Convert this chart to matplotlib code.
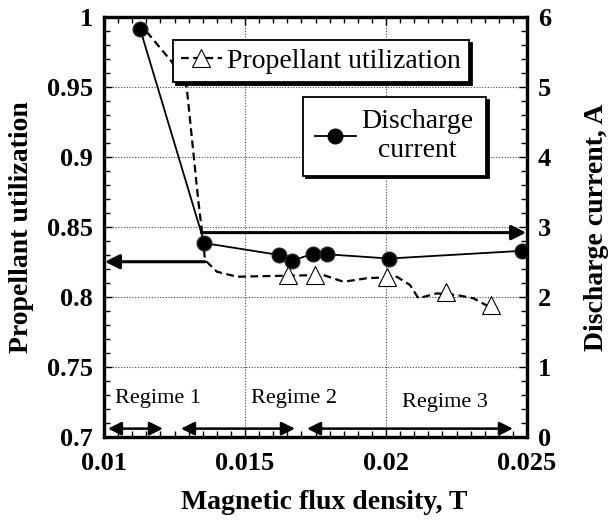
import matplotlib.pyplot as plt
from matplotlib.lines import Line2D
from matplotlib.ticker import MultipleLocator

plt.rcParams['font.family'] = ['Liberation Serif', 'DejaVu Serif']

# measured propellant utilization
util_b = [0.01654, 0.01748, 0.02002, 0.02213, 0.02372]
util = [0.8157, 0.8157, 0.8145, 0.8038, 0.7943]

# smoothed utilization trend (dashed)
trend_b = [0.01151, 0.01240, 0.01293, 0.01334, 0.01351, 0.01358, 0.01400, 0.01471,
           0.01636, 0.01778, 0.01849, 0.01932, 0.02038, 0.02085, 0.02115, 0.02180,
           0.02251, 0.02310, 0.02398]
trend = [0.9895, 0.9681, 0.9502, 0.8693, 0.8407, 0.8264, 0.8181, 0.8145,
         0.8152, 0.8157, 0.8109, 0.8134, 0.8145, 0.8086, 0.7991, 0.8026,
         0.8014, 0.7991, 0.7895]

# discharge current, A
current_b = [0.01128, 0.01356, 0.01622, 0.01668, 0.01742, 0.01792, 0.02011, 0.02483]
current = [5.83, 2.77, 2.60, 2.52, 2.62, 2.61, 2.55, 2.66]

regimes = ['Regime 1', 'Regime 2', 'Regime 3']
regime_start = [0.01014, 0.01273, 0.01720]
regime_end = [0.01209, 0.01677, 0.02450]
regime_text_x = [0.01190, 0.01672, 0.02208]
regime_text_y = [0.7275, 0.7275, 0.7250]

fig = plt.figure(figsize=(6.13, 5.22), dpi=100)
ax = fig.add_axes([0.1697, 0.1628, 0.6900, 0.8046])
ax2 = ax.twinx()

ax.set_xlim(0.01, 0.025)
ax.set_ylim(0.7, 1.0)
ax2.set_ylim(0, 6)

ax.xaxis.set_major_locator(MultipleLocator(0.005))
ax.xaxis.set_minor_locator(MultipleLocator(0.0005))
ax.yaxis.set_major_locator(MultipleLocator(0.05))
ax.yaxis.set_minor_locator(MultipleLocator(0.01))
ax2.yaxis.set_major_locator(MultipleLocator(1))
ax2.yaxis.set_minor_locator(MultipleLocator(0.2))
ax.set_xticks([0.01, 0.015, 0.02, 0.025])
ax.set_xticklabels(['0.01', '0.015', '0.02', '0.025'])
ax.set_yticks([0.7, 0.75, 0.8, 0.85, 0.9, 0.95, 1.0])
ax.set_yticklabels(['0.7', '0.75', '0.8', '0.85', '0.9', '0.95', '1'])

ax.grid(True, which='major', linestyle=(0, (1, 1.5)), color='#444444', linewidth=0.8)

for a in (ax, ax2):
    for s in a.spines.values():
        s.set_linewidth(2.3)
ax.tick_params(axis='both', which='both', direction='in', top=True, right=False,
               labelsize=19, width=1.0)
ax.tick_params(axis='both', which='major', length=6)
ax.tick_params(axis='both', which='minor', length=4)
ax.tick_params(axis='x', pad=11)
ax.tick_params(axis='y', pad=8)
ax2.tick_params(axis='y', which='both', direction='in', labelsize=19, width=1.0, pad=8)
ax2.tick_params(axis='y', which='major', length=6)
ax2.tick_params(axis='y', which='minor', length=4)
for lab in ax.get_xticklabels() + ax.get_yticklabels() + ax2.get_yticklabels():
    lab.set_fontweight('bold')

ax.set_xlabel('Magnetic flux density, T', fontsize=20, fontweight='bold')
ax.set_ylabel('Propellant utilization', fontsize=20, fontweight='bold')
ax2.set_ylabel('Discharge current, A', fontsize=20, fontweight='bold', rotation=90)
ax.xaxis.set_label_coords(0.52, -0.125)
ax.yaxis.set_label_coords(-0.165, 0.5)
ax2.yaxis.set_label_coords(1.134, 0.5)

# utilization: dashed trend and open triangles
ax.plot(trend_b, trend, color='black', lw=1.6, linestyle=(0, (3.5, 2)), zorder=3)
ax.plot(util_b, util, linestyle='none', marker='^', ms=13, mfc='white',
        mec='black', mew=0.8, zorder=4)

# discharge current: solid line with filled circles
ax2.plot(current_b, current, color='black', lw=1.3, marker='o', ms=10.5,
         mfc='black', mec='#222222', zorder=5)

# pointer arrows to each axis
arrow = dict(arrowstyle='-|>', color='black', lw=2.2, mutation_scale=22,
             shrinkA=0, shrinkB=0)
ax2.annotate('', xy=(0.02497, 2.92), xytext=(0.01346, 2.92), arrowprops=arrow)
ax.annotate('', xy=(0.01003, 0.8252), xytext=(0.01358, 0.8252), arrowprops=arrow)

# regime ranges
dbl = dict(arrowstyle='<|-|>', color='black', lw=1.8, mutation_scale=20,
           shrinkA=0, shrinkB=0)
for name, x0, x1, xt, yt in zip(regimes, regime_start, regime_end,
                                regime_text_x, regime_text_y):
    ax.annotate('', xy=(x0, 0.706), xytext=(x1, 0.706), arrowprops=dbl)
    ax.text(xt, yt, name, fontsize=16, ha='center', va='center')

h1 = Line2D([], [], color='black', lw=1.6, linestyle=(0, (3.5, 2)), marker='^',
            ms=13, mfc='white', mec='black', mew=0.8)
h2 = Line2D([], [], color='black', lw=1.3, marker='o', ms=10.5, mfc='black')
shadow = {'facecolor': 'black', 'edgecolor': 'black', 'alpha': 1}
leg1 = ax2.legend([h1], ['Propellant utilization'], loc='upper left',
                  bbox_to_anchor=(0.163, 0.945), borderaxespad=0, fontsize=20,
                  fancybox=False, shadow=shadow, framealpha=1, edgecolor='black',
                  handlelength=1.45, handletextpad=0.2, borderpad=0.3)
leg1.get_frame().set_linewidth(1.3)
ax2.add_artist(leg1)
leg2 = ax2.legend([h2], ['Discharge\ncurrent'], loc='upper left',
                  bbox_to_anchor=(0.470, 0.810), borderaxespad=0, fontsize=20,
                  fancybox=False, shadow=shadow, framealpha=1, edgecolor='black',
                  handlelength=1.45, handletextpad=0.2, borderpad=0.45)
leg2.get_frame().set_linewidth(1.3)
for t in leg2.get_texts():
    t.set_multialignment('center')

fig.savefig('out.png', dpi=100)
